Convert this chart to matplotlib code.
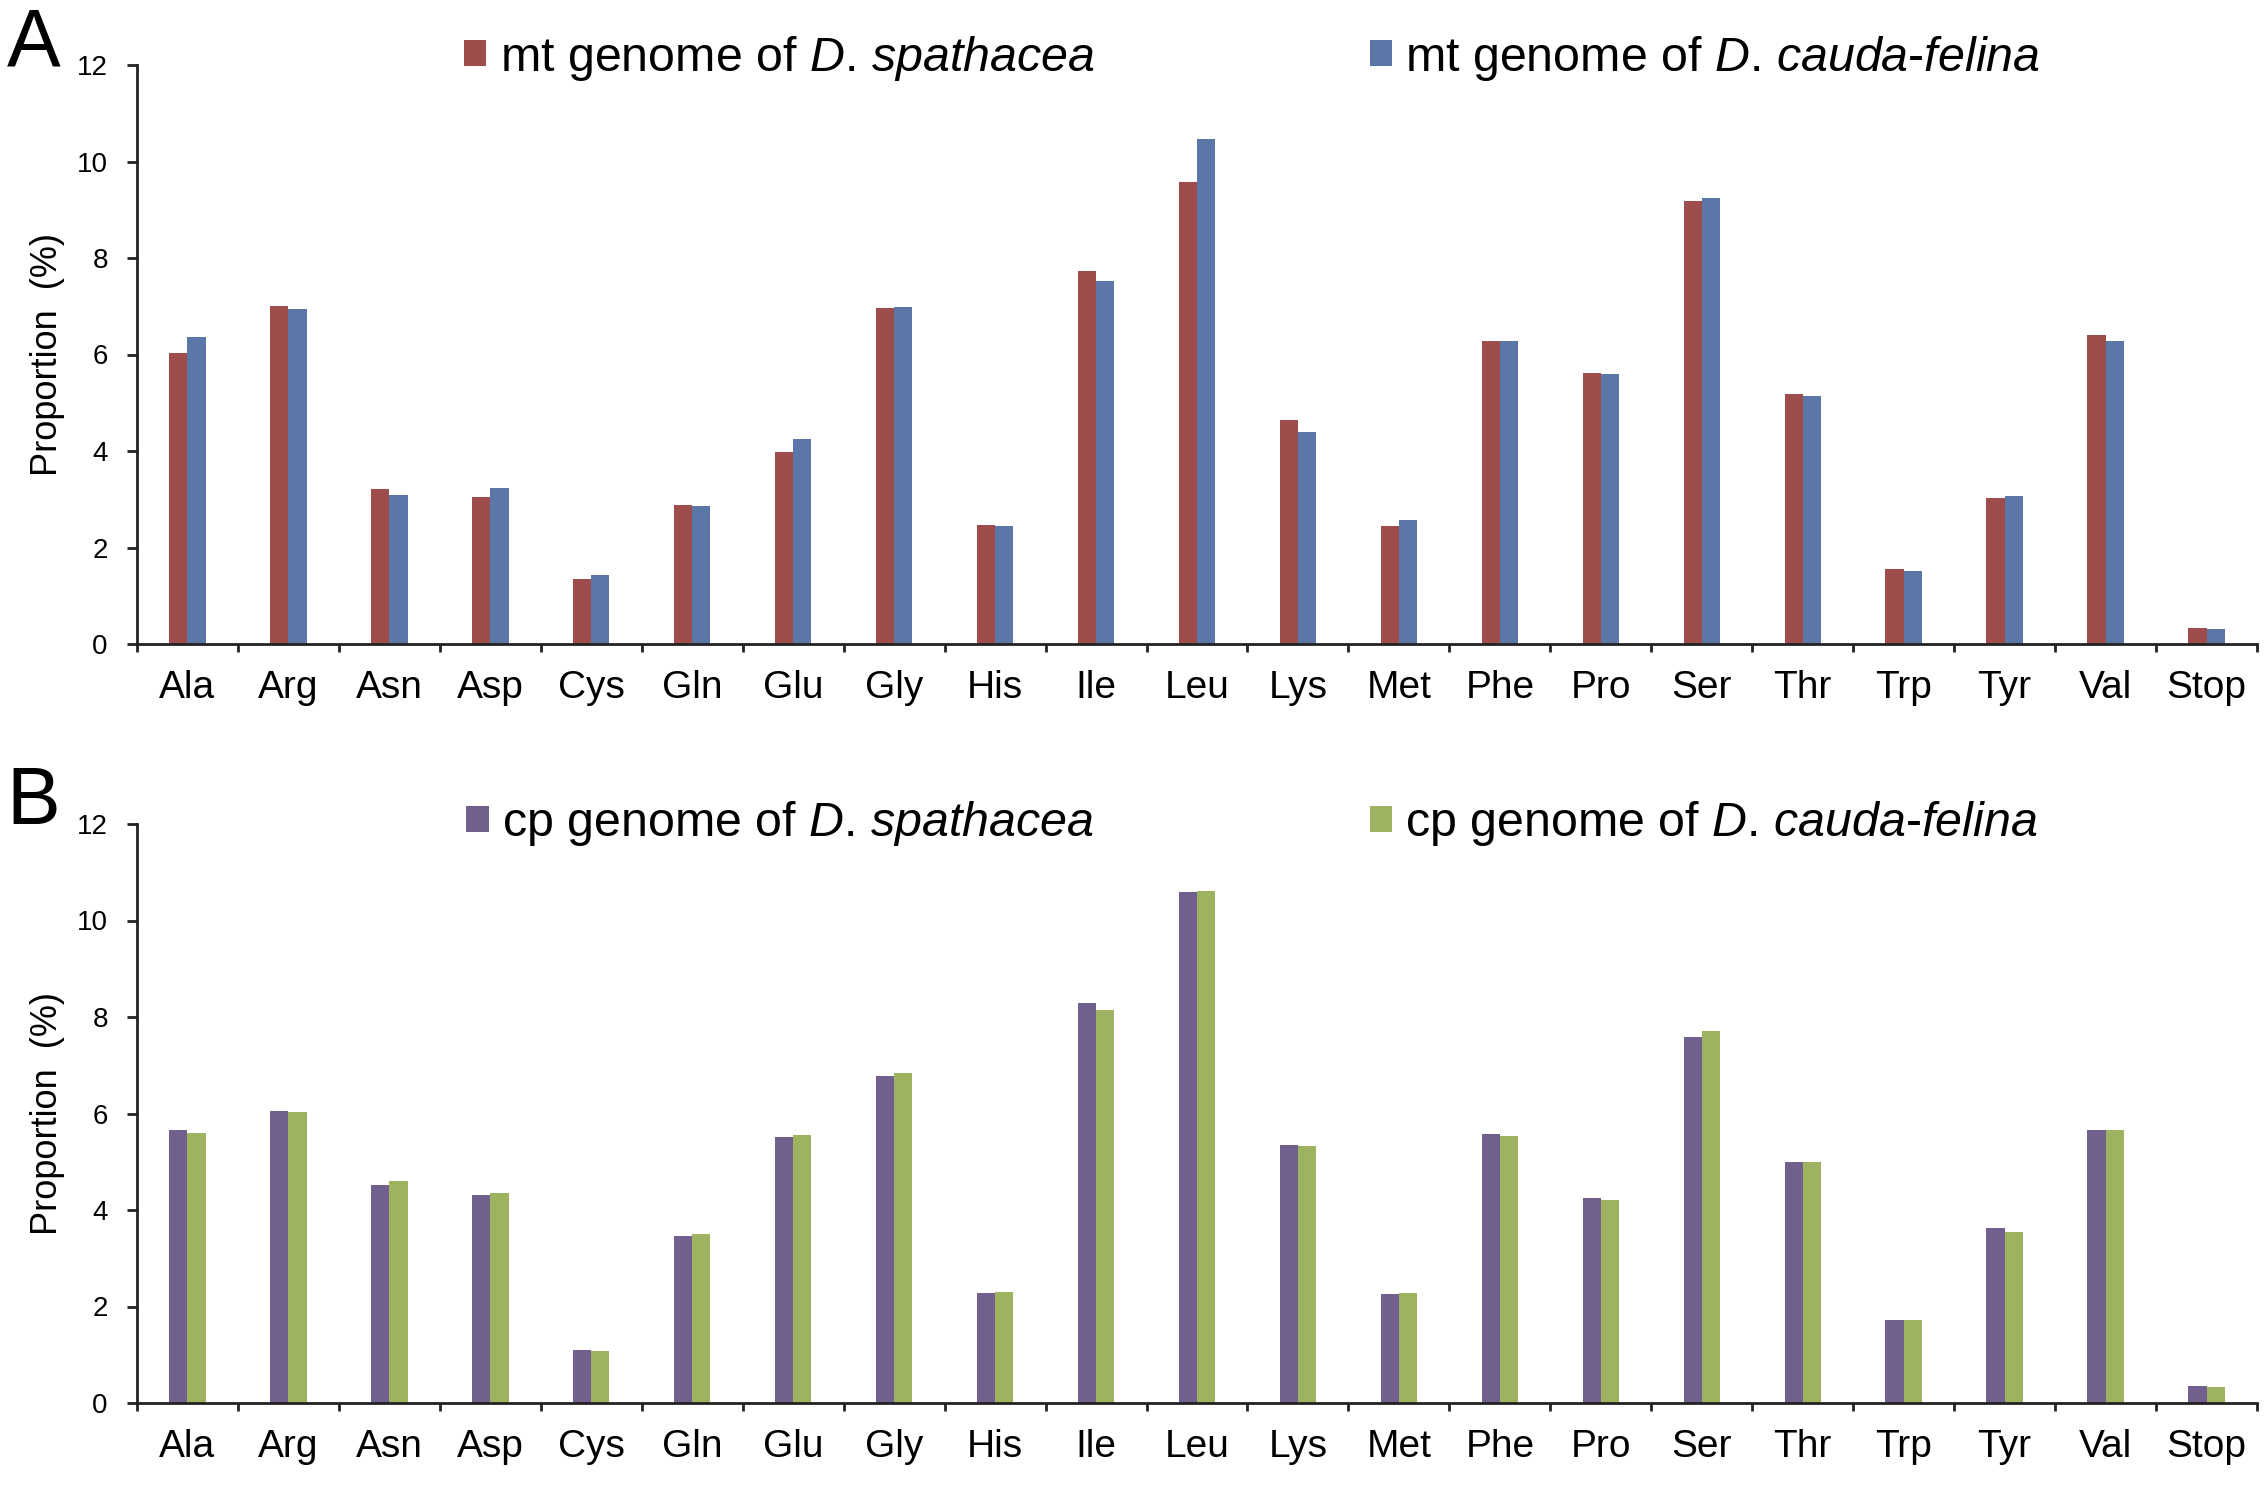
import matplotlib
matplotlib.use("Agg")
import matplotlib.pyplot as plt
import numpy as np
from matplotlib.patches import Patch

plt.rcParams['font.family'] = ['Liberation Sans', 'DejaVu Sans']
plt.rcParams['mathtext.fontset'] = 'custom'
plt.rcParams['mathtext.it'] = 'Liberation Sans:italic'
plt.rcParams['mathtext.rm'] = 'Liberation Sans'

amino = ["Ala", "Arg", "Asn", "Asp", "Cys", "Gln", "Glu", "Gly", "His", "Ile", "Leu",
         "Lys", "Met", "Phe", "Pro", "Ser", "Thr", "Trp", "Tyr", "Val", "Stop"]

mt_spathacea = [6.04, 7.00, 3.22, 3.04, 1.34, 2.89, 3.97, 6.96, 2.46, 7.74, 9.57,
                4.64, 2.44, 6.28, 5.62, 9.18, 5.19, 1.56, 3.03, 6.40, 0.34]
mt_cauda = [6.36, 6.94, 3.09, 3.24, 1.42, 2.85, 4.24, 6.98, 2.44, 7.53, 10.47,
            4.40, 2.56, 6.27, 5.60, 9.24, 5.14, 1.51, 3.07, 6.28, 0.32]

cp_spathacea = [5.65, 6.06, 4.52, 4.32, 1.10, 3.46, 5.51, 6.78, 2.28, 8.30, 10.59,
                5.35, 2.25, 5.58, 4.25, 7.59, 5.00, 1.73, 3.62, 5.65, 0.35]
cp_cauda = [5.60, 6.04, 4.60, 4.36, 1.08, 3.51, 5.55, 6.83, 2.30, 8.14, 10.62,
            5.33, 2.28, 5.53, 4.20, 7.72, 5.00, 1.71, 3.55, 5.65, 0.33]

panels = [
    ("A", mt_spathacea, mt_cauda, "#9E4C4C", "#5B77A8",
     r"mt genome of $\mathit{D}$. $\mathit{spathacea}$",
     r"mt genome of $\mathit{D}$. $\mathit{cauda}$-$\mathit{felina}$", 1.012),
    ("B", cp_spathacea, cp_cauda, "#715F8E", "#9DB35F",
     r"cp genome of $\mathit{D}$. $\mathit{spathacea}$",
     r"cp genome of $\mathit{D}$. $\mathit{cauda}$-$\mathit{felina}$", 1.0),
]

fig = plt.figure(figsize=(22.66, 14.91), dpi=100)
W, H = 2266, 1491
boxes = [(65, 644), (824, 1403)]  # top / bottom of each axes in px
left, right = 137, 2257

x = np.arange(len(amino))
w = 0.18

for (letter, s1, s2, c1, c2, lab1, lab2, ly), (top, bot) in zip(panels, boxes):
    ax = fig.add_axes([left / W, 1 - bot / H, (right - left) / W, (bot - top) / H])
    ax.bar(x - w / 2, s1, w, color=c1)
    ax.bar(x + w / 2, s2, w, color=c2)
    ax.set_xlim(-0.5, len(amino) - 0.5)
    ax.set_ylim(0, 12)
    ax.set_yticks(range(0, 13, 2))
    ax.tick_params(axis='y', labelsize=20, length=7, width=2, pad=14,
                   direction='out', color='#222222')
    ax.set_xticks(np.arange(-0.5, len(amino), 1.0))
    ax.set_xticklabels([])
    ax.tick_params(axis='x', which='major', length=6, width=2, direction='out', color='#222222')
    ax.set_xticks(x, minor=True)
    ax.set_xticklabels(amino, minor=True)
    ax.tick_params(axis='x', which='minor', length=0, pad=19, labelsize=28)
    for sp in ['top', 'right']:
        ax.spines[sp].set_visible(False)
    for sp in ['left', 'bottom']:
        ax.spines[sp].set_linewidth(2)
        ax.spines[sp].set_color('#222222')
    ax.set_ylabel("Proportion  (%)", fontsize=26)
    ax.yaxis.set_label_coords(-0.034, 0.5)

    handles = [Patch(facecolor=c1), Patch(facecolor=c2)]
    ax.legend(handles, [lab1, lab2], ncol=2, frameon=False, fontsize=34.8,
              loc='center', bbox_to_anchor=(0.526, ly), handlelength=0.46,
              handleheight=0.46, handletextpad=0.28, columnspacing=5.7)

    fig.text(0.003, 1 - top / H, letter, fontsize=58, va='baseline', ha='left')

fig.savefig("out.png", dpi=100)
